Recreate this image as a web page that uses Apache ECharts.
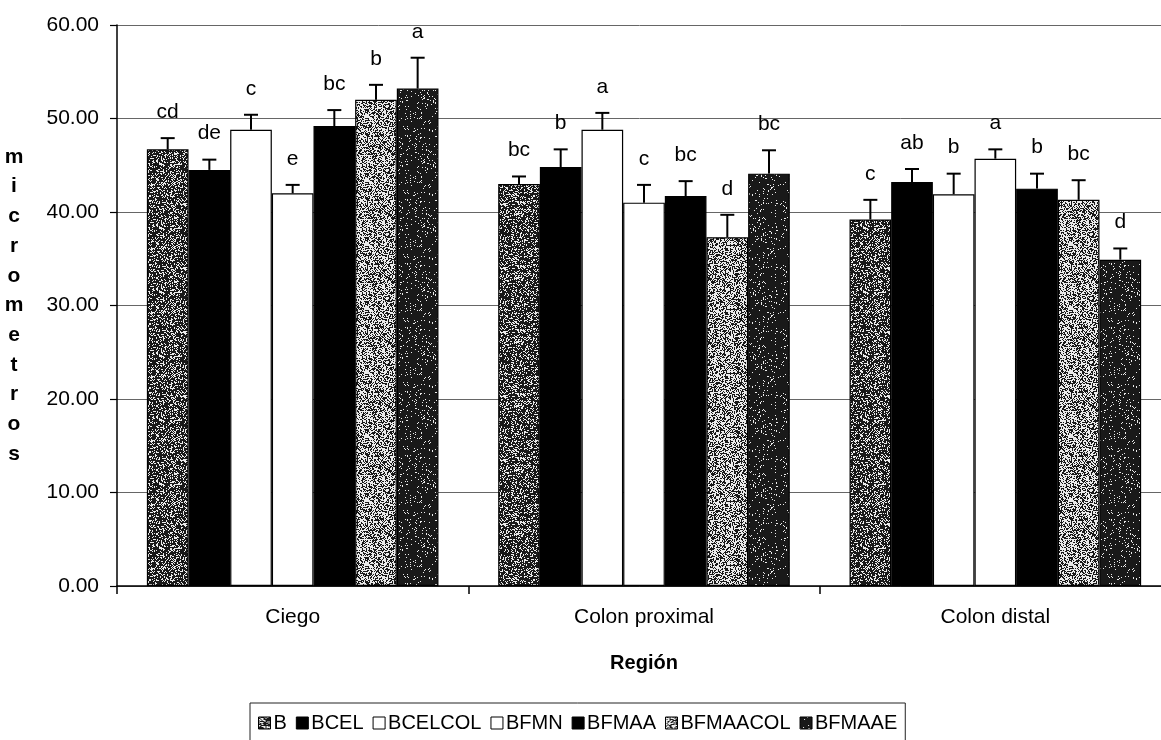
<!DOCTYPE html>
<html>
<head>
<meta charset="utf-8">
<script src="https://cdn.jsdelivr.net/npm/echarts@6/dist/echarts.min.js"></script>
<style>
  html, body { margin: 0; padding: 0; background: #fff; }
  #chart { width: 1161px; height: 740px; }
</style>
</head>
<body>
<div id="chart"></div>
<script>
// categorias (regiones) y tratamientos
const categories = ['Ciego', 'Colon proximal', 'Colon distal'];
const seriesNames = ['B', 'BCEL', 'BCELCOL', 'BFMN', 'BFMAA', 'BFMAACOL', 'BFMAAE'];

// medias por region, en el orden de seriesNames
const ciegoMeans = [46.7, 44.5, 48.8, 42.0, 49.2, 52.0, 53.2];
const proximalMeans = [43.0, 44.8, 48.8, 41.0, 41.7, 37.3, 44.1];
const distalMeans = [39.2, 43.2, 41.9, 45.7, 42.5, 41.3, 34.9];

// error estandar (solo la barra superior)
const ciegoSE = [1.2, 1.1, 1.6, 0.9, 1.7, 1.6, 3.3];
const proximalSE = [0.8, 1.9, 1.8, 1.9, 1.6, 2.4, 2.5];
const distalSE = [2.1, 1.4, 2.2, 1.0, 1.6, 2.1, 1.2];

// letras de significancia
const ciegoLetters = ['cd', 'de', 'c', 'e', 'bc', 'b', 'a'];
const proximalLetters = ['bc', 'b', 'a', 'c', 'bc', 'd', 'bc'];
const distalLetters = ['c', 'ab', 'b', 'a', 'b', 'bc', 'd'];

// eje y
const yTicks = [0, 10, 20, 30, 40, 50, 60];

const FONT = '"Liberation Sans", Arial, sans-serif';
const CAT_GAP = 0.17;

const means = [ciegoMeans, proximalMeans, distalMeans];
const ses = [ciegoSE, proximalSE, distalSE];
const letters = [ciegoLetters, proximalLetters, distalLetters];

// textura punteada (estilo de grafico escaneado)
function speckle(whiteFrac, seed) {
  const size = 64;
  const c = document.createElement('canvas');
  c.width = size; c.height = size;
  const ctx = c.getContext('2d');
  const img = ctx.createImageData(size, size);
  for (let y = 0; y < size; y++) {
    for (let x = 0; x < size; x++) {
      const s = Math.sin((x + seed) * 12.9898 + (y + seed * 3) * 78.233) * 43758.5453;
      const h = s - Math.floor(s);
      const v = h < whiteFrac ? 235 : 25;
      const k = (y * size + x) * 4;
      img.data[k] = v; img.data[k + 1] = v; img.data[k + 2] = v; img.data[k + 3] = 255;
    }
  }
  ctx.putImageData(img, 0, 0);
  return { image: c, repeat: 'repeat' };
}

const fills = [
  speckle(0.30, 1),   // B
  '#000',             // BCEL
  '#fff',             // BCELCOL
  '#fff',             // BFMN
  '#000',             // BFMAA
  speckle(0.55, 7),   // BFMAACOL
  speckle(0.07, 13)   // BFMAAE
];

const barSeries = seriesNames.map((name, i) => ({
  name: name,
  type: 'bar',
  barGap: '0%',
  barCategoryGap: (CAT_GAP * 100) + '%',
  itemStyle: { color: fills[i], borderColor: '#000', borderWidth: 1.2 },
  data: means.map(m => m[i])
}));

// filas para barras de error y letras
const errRows = [];
means.forEach((m, c) => {
  m.forEach((v, i) => {
    errRows.push({ value: [c, v, ses[c][i], i], letter: letters[c][i] });
  });
});

function renderErr(params, api) {
  const row = errRows[params.dataIndex];
  const cat = api.value(0), mean = api.value(1), se = api.value(2), s = api.value(3);
  const band = api.size([1, 0])[0];
  const bw = band * (1 - CAT_GAP) / seriesNames.length;
  const cx = api.coord([cat, 0])[0] + (s - (seriesNames.length - 1) / 2) * bw;
  const yTop = api.coord([cat, mean])[1];
  const yErr = api.coord([cat, mean + se])[1];
  return {
    type: 'group',
    children: [
      { type: 'line', shape: { x1: cx, y1: yTop, x2: cx, y2: yErr }, style: { stroke: '#000', lineWidth: 2 } },
      { type: 'line', shape: { x1: cx - 7, y1: yErr, x2: cx + 7, y2: yErr }, style: { stroke: '#000', lineWidth: 2 } },
      {
        type: 'text', x: cx, y: yErr - 26,
        style: { text: row.letter, fill: '#000', font: '21px ' + FONT, align: 'center', verticalAlign: 'middle' }
      }
    ]
  };
}

const chart = echarts.init(document.getElementById('chart'));
chart.setOption({
  animation: false,
  backgroundColor: '#fff',
  textStyle: { fontFamily: FONT, color: '#000' },
  grid: { left: 117, top: 25, width: 1054, height: 561, outerBoundsMode: 'none' },
  legend: {
    data: seriesNames,
    left: 250,
    top: 703,
    padding: [10, 8, 30, 8],
    borderColor: '#222',
    borderWidth: 1,
    icon: 'rect',
    itemWidth: 12,
    itemHeight: 12,
    itemGap: 9,
    itemStyle: { borderColor: '#000', borderWidth: 1 },
    textStyle: { fontFamily: FONT, fontSize: 20, color: '#000', padding: [0, 0, 0, -2] }
  },
  xAxis: {
    type: 'category',
    data: categories,
    name: 'Región',
    nameLocation: 'middle',
    nameGap: 67,
    nameTextStyle: { fontFamily: FONT, fontSize: 20, fontWeight: 'bold', color: '#000' },
    axisLine: { lineStyle: { color: '#000', width: 1.5 } },
    axisTick: { show: true, length: 8, interval: 0, lineStyle: { color: '#000', width: 1.5 } },
    axisLabel: { fontFamily: FONT, fontSize: 21, color: '#000', margin: 21 },
    splitLine: { show: false }
  },
  yAxis: {
    type: 'value',
    min: yTicks[0],
    max: yTicks[yTicks.length - 1],
    interval: yTicks[1] - yTicks[0],
    name: 'micrometros'.split('').join('\n'),
    nameLocation: 'middle',
    nameRotate: 0,
    nameGap: 103,
    nameTextStyle: { fontFamily: FONT, fontSize: 21, fontWeight: 'bold', color: '#000', lineHeight: 29.7, align: 'center', verticalAlign: 'middle' },
    axisLine: { show: true, lineStyle: { color: '#000', width: 1.5 } },
    axisTick: { show: true, length: 7, lineStyle: { color: '#000', width: 1.2 } },
    axisLabel: { fontFamily: FONT, fontSize: 21, color: '#000', margin: 18, formatter: v => v.toFixed(2) },
    splitLine: { show: true, lineStyle: { color: '#666', width: 1 } }
  },
  series: barSeries.concat([{
    name: 'err',
    type: 'custom',
    z: 5,
    renderItem: renderErr,
    data: errRows.map(r => r.value)
  }])
});
</script>
</body>
</html>
